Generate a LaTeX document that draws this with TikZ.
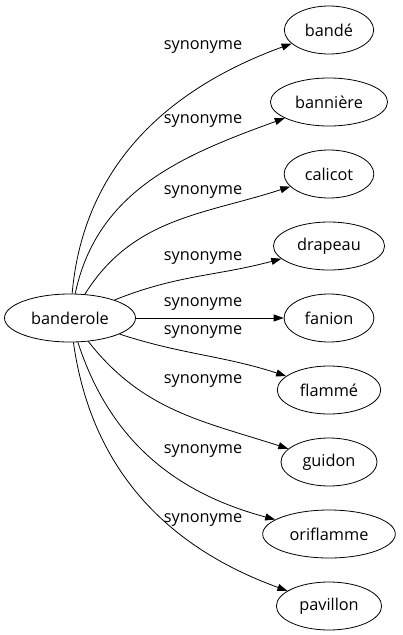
\documentclass[tikz,border=0pt]{standalone}
\usepackage{fontspec}
\setmainfont{Open Sans}
\usetikzlibrary{arrows.meta,shapes.geometric}

\tikzset{
  mot/.style={draw, ellipse, line width=0.8pt, minimum height=48pt, inner xsep=7.5pt, inner ysep=0pt, font=\fontsize{16.3}{18}\selectfont},
  lien/.style={line width=0.8pt, -{Triangle[length=10pt, width=7pt]}},
  etiq/.style={font=\fontsize{16.3}{18}\selectfont, inner sep=0pt}
}

\begin{document}
\begin{tikzpicture}[x=1pt, y=-1pt]
\useasboundingbox (0,0) rectangle (403,635);
\node[mot] (banderole) at (70,318) {banderole};
\node[mot] (bande) at (329,30) {bandé};
\node[mot] (banniere) at (329,102) {bannière};
\node[mot] (calicot) at (329,174) {calicot};
\node[mot] (drapeau) at (329,246) {drapeau};
\node[mot] (fanion) at (329,318) {fanion};
\node[mot] (flamme) at (329,390) {flammé};
\node[mot] (guidon) at (329,462) {guidon};
\node[mot] (oriflamme) at (329,534) {oriflamme};
\node[mot] (pavillon) at (329,606) {pavillon};

\draw[lien] (banderole) to[out=85, in=200] (bande);
\draw[lien] (banderole) to[out=78, in=200] (banniere);
\draw[lien] (banderole) to[out=58, in=198] (calicot);
\draw[lien] (banderole) to[out=22, in=195] (drapeau);
\draw[lien] (banderole) -- (fanion);
\draw[lien] (banderole) to[out=-18, in=162] (flamme);
\draw[lien] (banderole) to[out=-52, in=162] (guidon);
\draw[lien] (banderole) to[out=-72, in=165] (oriflamme);
\draw[lien] (banderole) to[out=-82, in=160] (pavillon);

\node[etiq] (s1) at (203,47) {synonyme};
\node[etiq] (s2) at (203,121) {synonyme};
\node[etiq] (s3) at (203,192) {synonyme};
\node[etiq] (s4) at (203,258) {synonyme};
\node[etiq] (s5) at (203,304) {synonyme};
\node[etiq] (s6) at (203,332) {synonyme};
\node[etiq] (s7) at (203,381) {synonyme};
\node[etiq] (s8) at (203,451) {synonyme};
\node[etiq] (s9) at (203,520) {synonyme};
\end{tikzpicture}
\end{document}
